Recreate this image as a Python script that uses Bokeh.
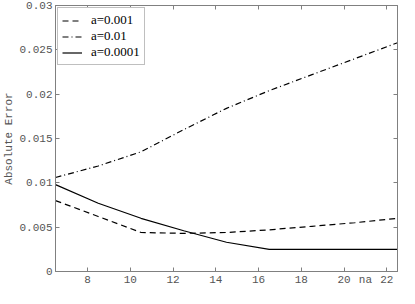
from bokeh.plotting import figure
from bokeh.models import LinearAxis, Legend, LegendItem, FixedTicker, Range1d
from bokeh.embed import file_html
from bokeh.resources import INLINE

na = [6.5, 8.5, 10.5, 12.5, 14.5, 16.5, 18.5, 20.5, 22.5]
err_a001 = [0.0080, 0.0062, 0.0044, 0.0043, 0.0044, 0.0047, 0.0051, 0.0055, 0.0060]
err_a01 = [0.0106, 0.0119, 0.0135, 0.0160, 0.0184, 0.0204, 0.0222, 0.0240, 0.0258]
err_a0001 = [0.0098, 0.0077, 0.0060, 0.0046, 0.0033, 0.0025, 0.0025, 0.0025, 0.0025]
labels = ["a=0.001", "a=0.01", "a=0.0001"]
x_ticks = [8, 10, 12, 14, 16, 18, 20, 22]
y_ticks = [0, 0.005, 0.01, 0.015, 0.02, 0.025, 0.03]
y_tick_labels = ["0", "0.005", "0.01", "0.015", "0.02", "0.025", "0.03"]
x_title = "na"
x_title_pos = 21
y_title = "Absolute Error"

GRAY = "#808080"
TXT = "#555555"
MONO = "'Liberation Mono', monospace"
SERIF = "'Liberation Serif', 'Times New Roman', serif"

p = figure(width=399, height=288, output_backend="svg", toolbar_location=None,
           x_range=Range1d(6.5, 22.5), y_range=Range1d(0, 0.03),
           x_axis_location=None, y_axis_location=None,
           min_border_left=49, min_border_right=2, min_border_top=5, min_border_bottom=15)
p.grid.visible = False
p.outline_line_color = GRAY
p.background_fill_color = "white"
p.border_fill_color = "white"


def tick_axis(ticks):
    ax = LinearAxis(ticker=FixedTicker(ticks=ticks))
    ax.axis_line_color = GRAY
    ax.major_tick_line_color = GRAY
    ax.minor_tick_line_color = None
    ax.major_tick_in = 4
    ax.major_tick_out = 0
    ax.major_label_overrides = {t: "" for t in ticks}
    ax.major_label_standoff = 0
    ax.major_label_text_font_size = "1px"
    return ax


# frame-side tick marks on all four sides
p.add_layout(tick_axis(x_ticks), "below")
p.add_layout(tick_axis(x_ticks), "above")
p.add_layout(tick_axis(y_ticks), "right")

# bottom labels (with the 'na' title placed among them)
bx = LinearAxis(ticker=FixedTicker(ticks=x_ticks + [x_title_pos]))
bx.axis_line_color = None
bx.major_tick_line_color = None
bx.minor_tick_line_color = None
bx.major_tick_in = 0
bx.major_tick_out = 0
bx.major_label_overrides = {x_title_pos: x_title}
bx.major_label_text_font = MONO
bx.major_label_text_font_size = "11px"
bx.major_label_text_color = TXT
bx.major_label_standoff = 2
p.add_layout(bx, "below")

ly = LinearAxis(ticker=FixedTicker(ticks=y_ticks))
ly.axis_line_color = GRAY
ly.major_tick_line_color = GRAY
ly.minor_tick_line_color = None
ly.major_tick_in = 4
ly.major_tick_out = 0
ly.major_label_overrides = dict(zip(y_ticks, y_tick_labels))
ly.major_label_text_font = MONO
ly.major_label_text_font_size = "11px"
ly.major_label_text_color = TXT
ly.major_label_standoff = 3
ly.axis_label = y_title
ly.axis_label_text_font = MONO
ly.axis_label_text_font_size = "11px"
ly.axis_label_text_font_style = "normal"
ly.axis_label_text_color = TXT
ly.axis_label_standoff = 1
p.add_layout(ly, "left")

r1 = p.line(na, err_a001, line_color="black", line_width=1.2, line_dash="6 4")
r2 = p.line(na, err_a01, line_color="black", line_width=1.2, line_dash="6 3 1 3")
r3 = p.line(na, err_a0001, line_color="black", line_width=1.2)

legend = Legend(items=[LegendItem(label=labels[0], renderers=[r1]),
                       LegendItem(label=labels[1], renderers=[r2]),
                       LegendItem(label=labels[2], renderers=[r3])],
                location="top_left")
legend.label_text_font = SERIF
legend.label_text_font_size = "13px"
legend.label_text_color = "black"
legend.label_height = 13
legend.glyph_height = 13
legend.glyph_width = 20
legend.label_standoff = 9
legend.spacing = 0
legend.padding = 4
legend.margin = 2
legend.border_line_color = GRAY
legend.background_fill_alpha = 1
p.add_layout(legend)

open("out.html", "w").write(file_html(p, INLINE))
